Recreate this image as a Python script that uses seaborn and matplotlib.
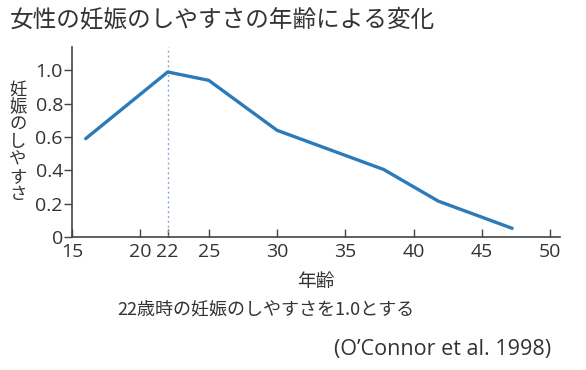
import matplotlib
matplotlib.use("Agg")
import matplotlib.pyplot as plt
import seaborn as sns
import pandas as pd

ages = [16, 22, 25, 30, 37.8, 41.8, 47.2]
fertility = [0.59, 0.99, 0.94, 0.64, 0.405, 0.215, 0.052]
x_ticks = [15, 20, 22, 25, 30, 35, 40, 45, 50]
y_ticks = [0, 0.2, 0.4, 0.6, 0.8, 1.0]
y_tick_labels = ["0", "0.2", "0.4", "0.6", "0.8", "1.0"]
peak_age = 22

title = "女性の妊娠のしやすさの年齢による変化"
ylabel = "妊娠のしやすさ"
xlabel = "年齢"
note = "22歳時の妊娠のしやすさを1.0とする"
source = "(O’Connor et al. 1998)"

sns.set_style("ticks")
plt.rcParams['font.family'] = ['Noto Sans CJK JP', 'DejaVu Sans']
latin = ['Open Sans', 'DejaVu Sans']

df = pd.DataFrame({"age": ages, "fertility": fertility})

fig = plt.figure(figsize=(5.86, 3.70), dpi=100)
ax = fig.add_axes([0.1229, 0.3595, 0.8327, 0.5135])

txt = "#333333"
ax.axvline(peak_age, color="#8aaccc", lw=1.0, ls=(0, (1.5, 2)), zorder=1)
sns.lineplot(data=df, x="age", y="fertility", ax=ax, color="#2b7bba", lw=2.4, zorder=3)

ax.set_xlim(15, 50.7)
ax.set_ylim(0, 1.14)
ax.set_xticks(x_ticks)
ax.set_xticklabels([str(t) for t in x_ticks], family=latin)
ax.set_yticks(y_ticks)
ax.set_yticklabels(y_tick_labels, family=latin)
ax.tick_params(axis="x", direction="in", length=6, width=1, color="#444444",
               labelsize=14, labelcolor=txt, pad=4)
ax.tick_params(axis="y", direction="out", length=6, width=1, color="#444444",
               labelsize=14, labelcolor=txt, pad=0.5)
for s in ["top", "right"]:
    ax.spines[s].set_visible(False)
for s in ["left", "bottom"]:
    ax.spines[s].set_color("#444444")
    ax.spines[s].set_linewidth(1.2)
ax.set_xlabel("")
ax.set_ylabel("")

fig.text(10 / 586, 1 - 20 / 370, title, fontsize=17, color=txt, ha="left", va="center")
fig.text(18 / 586, 1 - 142 / 370, "\n".join(ylabel), fontsize=12.5, color=txt,
         ha="center", va="center", linespacing=0.95)
fig.text(316 / 586, 1 - 282 / 370, xlabel, fontsize=13.5, color=txt, ha="center", va="center")
fig.text(117 / 586, 1 - 310 / 370, note, fontsize=13, color=txt, ha="left", va="center")
fig.text(551 / 586, 1 - 350 / 370, source, fontsize=15.5, color=txt, ha="right", va="center",
         family=latin)

fig.savefig("out.png", dpi=100)
